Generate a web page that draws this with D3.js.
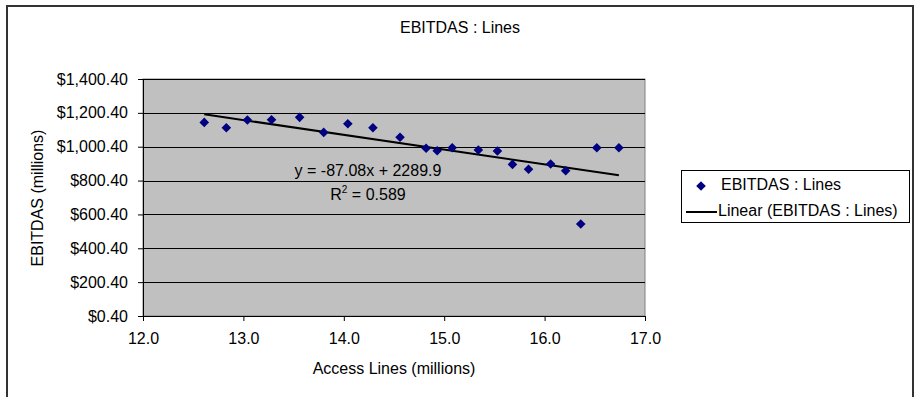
<!DOCTYPE html>
<html lang="en">
<head>
    <meta charset="utf-8">
    <title>EBITDAS : Lines</title>
    <script src="https://d3js.org/d3.v7.min.js"></script>
    <style>
        body { margin: 0; background: #fff; }
        text { font-family: "Liberation Sans", Arial, sans-serif; fill: #000; }
    </style>
</head>

<body>
<svg width="915" height="397"></svg>
<script>
    // data
    var accessLines = [12.61, 12.83, 13.04, 13.28, 13.56, 13.80, 14.04, 14.29, 14.56, 14.82, 14.93,
                       15.08, 15.34, 15.53, 15.68, 15.84, 16.06, 16.21, 16.36, 16.52, 16.74];
    var ebitdas = [1144, 1112, 1158, 1160, 1174, 1085, 1136, 1112, 1056, 991, 977,
                   994, 981, 975, 896, 867, 898, 858, 544, 994, 994];
    var xTicks = [12, 13, 14, 15, 16, 17];
    var yTicks = [0.4, 200.4, 400.4, 600.4, 800.4, 1000.4, 1200.4, 1400.4];
    var trendSlope = -87.08;
    var trendIntercept = 2289.9;
    var legendLabels = ["EBITDAS : Lines", "Linear (EBITDAS : Lines)"];

    var marge = {top:79, bottom:81, left:143, right:270};
    var svg = d3.select("svg");
    var width = +svg.attr("width");
    var height = +svg.attr("height");
    var w = width - marge.left - marge.right;   // 502
    var h = height - marge.top - marge.bottom;  // 237

    // outer frame
    svg.append("rect")
        .attr("x", 7).attr("y", 6)
        .attr("width", 906).attr("height", 400)
        .attr("fill", "#fff")
        .attr("stroke", "#333")
        .attr("stroke-width", 2);

    svg.append("text")
        .attr("x", 460).attr("y", 33)
        .attr("text-anchor", "middle")
        .style("font-size", "16px")
        .text("EBITDAS : Lines");

    var g = svg.append("g")
        .attr("transform", "translate(" + marge.left + "," + marge.top + ")");

    var xScale = d3.scaleLinear().domain([12, 17]).range([0, w]);
    var yScale = d3.scaleLinear().domain([0.4, 1400.4]).range([h, 0]);

    g.append("rect")
        .attr("width", w).attr("height", h)
        .attr("fill", "#c0c0c0")
        .attr("stroke", "#808080");

    // gridlines
    g.selectAll(".grid")
        .data(yTicks)
        .enter()
        .append("line")
        .attr("x1", 0).attr("x2", w)
        .attr("y1", function(d){ return Math.round(yScale(d)) + 0.5; })
        .attr("y2", function(d){ return Math.round(yScale(d)) + 0.5; })
        .attr("stroke", "#000")
        .attr("stroke-width", 1);

    var yFmt = d3.format(",.2f");
    var yAxis = d3.axisLeft(yScale)
        .tickValues(yTicks)
        .tickSizeInner(5).tickSizeOuter(0).tickPadding(10)
        .tickFormat(function(d){ return "$" + yFmt(d); });
    var xAxis = d3.axisBottom(xScale)
        .tickValues(xTicks)
        .tickSizeInner(5).tickSizeOuter(0).tickPadding(12)
        .tickFormat(d3.format(".1f"));

    var gy = g.append("g").call(yAxis);
    var gx = g.append("g").attr("transform", "translate(0," + h + ")").call(xAxis);
    [gx, gy].forEach(function(a){
        a.selectAll("text").style("font-size", "16px").style("font-family", "'Liberation Sans', Arial, sans-serif");
        a.selectAll("line, path").attr("stroke", "#000");
    });

    // trend line
    var xr = d3.extent(accessLines);
    g.append("line")
        .attr("x1", xScale(xr[0])).attr("y1", yScale(trendSlope * xr[0] + trendIntercept))
        .attr("x2", xScale(xr[1])).attr("y2", yScale(trendSlope * xr[1] + trendIntercept))
        .attr("stroke", "#000")
        .attr("stroke-width", 2);

    // points
    var diamond = "M0,-4.8L4.8,0L0,4.8L-4.8,0Z";
    g.selectAll(".pt")
        .data(accessLines)
        .enter()
        .append("path")
        .attr("d", diamond)
        .attr("transform", function(d, i){ return "translate(" + xScale(d) + "," + yScale(ebitdas[i]) + ")"; })
        .attr("fill", "#000080");

    // equation label
    var eq = g.append("text")
        .attr("x", 225).attr("y", 97)
        .attr("text-anchor", "middle")
        .style("font-size", "16px")
        .text("y = " + trendSlope.toFixed(2) + "x + " + trendIntercept.toFixed(1));
    var r2 = g.append("text")
        .attr("x", 225).attr("y", 121)
        .attr("text-anchor", "middle")
        .style("font-size", "16px");
    r2.append("tspan").text("R");
    r2.append("tspan").attr("dy", -7).style("font-size", "10px").text("2");
    r2.append("tspan").attr("dy", 7).text(" = 0.589");

    // axis titles
    svg.append("text")
        .attr("x", 394).attr("y", 374)
        .attr("text-anchor", "middle")
        .style("font-size", "16px")
        .text("Access Lines (millions)");
    svg.append("text")
        .attr("transform", "translate(43,198) rotate(-90)")
        .attr("text-anchor", "middle")
        .style("font-size", "16px")
        .text("EBITDAS (millions)");

    // legend
    var lg = svg.append("g").attr("transform", "translate(681,170)");
    lg.append("rect")
        .attr("x", 0.5).attr("y", 0.5)
        .attr("width", 228).attr("height", 52)
        .attr("fill", "#fff")
        .attr("stroke", "#000");
    lg.append("path")
        .attr("d", diamond)
        .attr("transform", "translate(20,16)")
        .attr("fill", "#000080");
    lg.append("line")
        .attr("x1", 5).attr("x2", 36)
        .attr("y1", 42).attr("y2", 42)
        .attr("stroke", "#000").attr("stroke-width", 2);
    lg.selectAll(".lt")
        .data(legendLabels)
        .enter()
        .append("text")
        .attr("x", function(d, i){ return i === 0 ? 40 : 37; })
        .attr("y", function(d, i){ return 20 + i * 26; })
        .style("font-size", "16px")
        .text(function(d){ return d; });
</script>
</body>
</html>
